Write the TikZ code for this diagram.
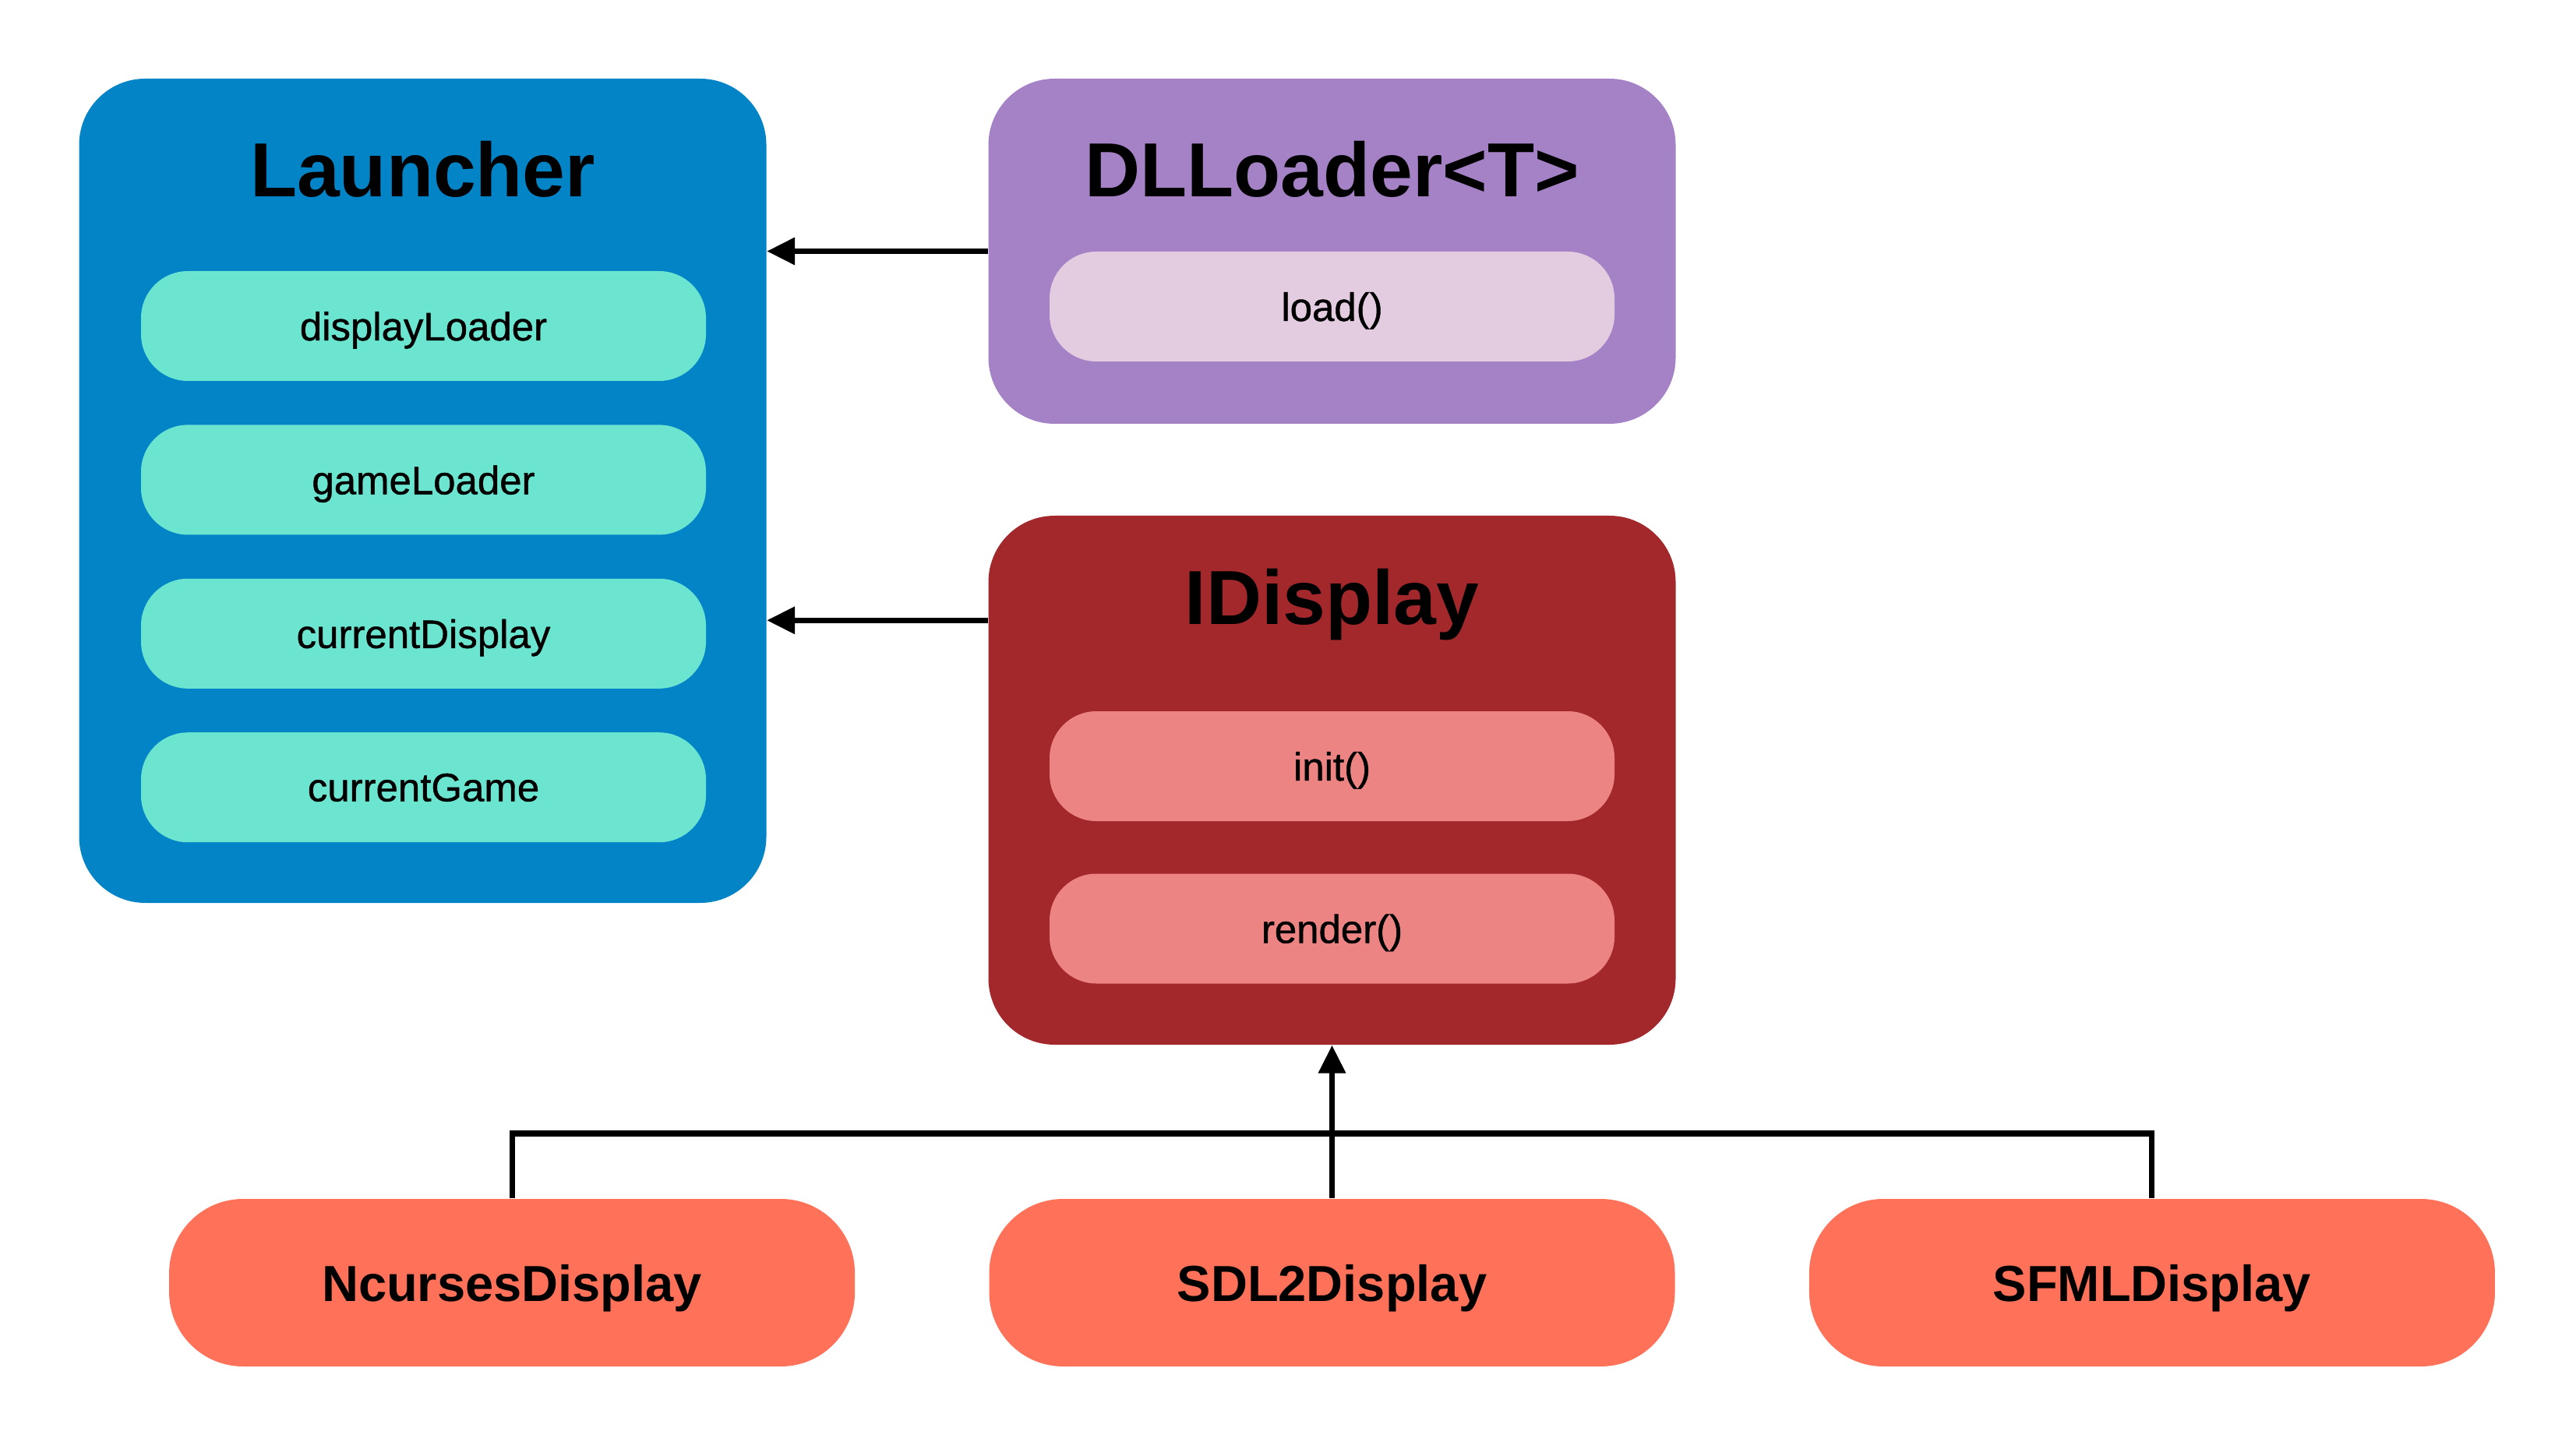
\documentclass[tikz,border=0pt]{standalone}
\usepackage{fontspec}
\setmainfont{Liberation Sans}
\newfontfamily\memberfont[FakeBold=0.9]{Liberation Sans}
\usetikzlibrary{arrows.meta, positioning, calc}
\definecolor{launcherblue}{RGB}{2,132,199}
\definecolor{fieldteal}{RGB}{107,229,207}
\definecolor{loaderpurple}{RGB}{165,130,198}
\definecolor{loaderpink}{RGB}{227,203,224}
\definecolor{displayred}{RGB}{163,40,43}
\definecolor{methodpink}{RGB}{237,132,132}
\definecolor{implorange}{RGB}{255,114,89}

\begin{document}
\begin{tikzpicture}[
    classbox/.style={rectangle, rounded corners=0.85cm, inner sep=0pt, minimum width=8.82cm},
    member/.style={rectangle, rounded corners=0.6cm, inner sep=0pt, minimum width=7.25cm, minimum height=1.41cm, text depth=0pt, font=\memberfont\fontsize{14.5}{18}\selectfont},
    title/.style={font=\fontsize{28}{34}\selectfont\bfseries},
    impl/.style={rectangle, rounded corners=0.95cm, fill=implorange, inner sep=0pt, minimum width=8.8cm, minimum height=2.15cm, text depth=0pt, font=\fontsize{18.5}{22}\selectfont\bfseries},
    arrow/.style={-{Triangle[length=3.6mm, width=3.4mm]}, line width=2pt},
    link/.style={line width=2pt}
]
\useasboundingbox (0,0) rectangle (33.06,-18.60);

% Launcher
\node[classbox, fill=launcherblue, minimum height=10.58cm] (launcher) at (5.425,-6.30) {};
\node[title] (launchertitle) at (5.425,-2.17) {Launcher};
\node[member, fill=fieldteal] (displayloader) at (5.435,-4.185) {displayLoader};
\node[member, fill=fieldteal, below=0.55cm of displayloader] (gameloader) {gameLoader};
\node[member, fill=fieldteal, below=0.55cm of gameloader] (currentdisplay) {currentDisplay};
\node[member, fill=fieldteal, below=0.55cm of currentdisplay] (currentgame) {currentGame};

% DLLoader
\node[classbox, fill=loaderpurple, minimum height=4.43cm] (dlloader) at (17.095,-3.225) {};
\node[title] (dlloadertitle) at (17.095,-2.17) {DLLoader<T>};
\node[member, fill=loaderpink] (load) at (17.095,-3.935) {load()};

% IDisplay
\node[classbox, fill=displayred, minimum height=6.79cm] (idisplay) at (17.095,-10.015) {};
\node[title] (idisplaytitle) at (17.095,-7.76) {IDisplay};
\node[member, fill=methodpink] (init) at (17.095,-9.835) {init()};
\node[member, fill=methodpink] (render) at (17.095,-11.92) {render()};

% Implementations
\node[impl] (sdl) at (17.095,-16.465) {SDL2Display};
\node[impl, left=1.71cm of sdl] (ncurses) {NcursesDisplay};
\node[impl, right=1.71cm of sdl] (sfml) {SFMLDisplay};

% Arrows
\draw[arrow] (dlloader.west) -- (dlloader.west -| launcher.east);
\coordinate (ifaceport) at ([yshift=-1.35cm]idisplay.north west);
\draw[arrow] (ifaceport) -- (ifaceport -| launcher.east);

\coordinate (bus) at (0,-14.55);
\draw[link] (ncurses.north) -- (ncurses.north |- bus) -- (sfml.north |- bus) -- (sfml.north);
\draw[arrow] (sdl.north) -- (idisplay.south);

\end{tikzpicture}
\end{document}
